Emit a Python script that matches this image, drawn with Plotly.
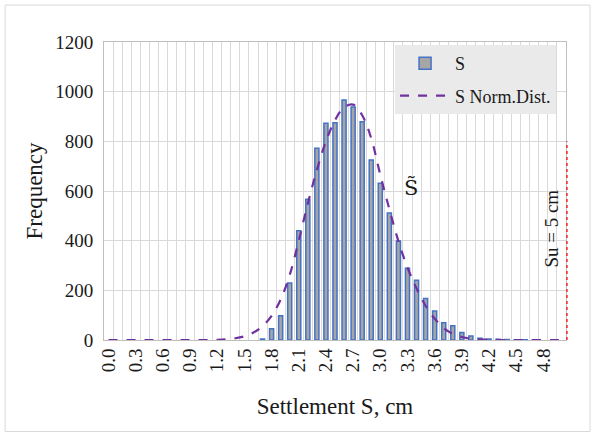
import plotly.graph_objects as go

# Bin centres of the settlement histogram (cm)
settlement = [0.0, 0.1, 0.2, 0.3, 0.4, 0.5, 0.6, 0.7, 0.8, 0.9,
              1.0, 1.1, 1.2, 1.3, 1.4, 1.5, 1.6, 1.7, 1.8, 1.9,
              2.0, 2.1, 2.2, 2.3, 2.4, 2.5, 2.6, 2.7, 2.8, 2.9,
              3.0, 3.1, 3.2, 3.3, 3.4, 3.5, 3.6, 3.7, 3.8, 3.9,
              4.0, 4.1, 4.2, 4.3, 4.4, 4.5, 4.6, 4.7, 4.8, 4.9, 5.0]

# Simulated frequencies per bin
frequency = [0, 0, 0, 0, 0, 0, 0, 0, 0, 0,
             0, 0, 0, 0, 0, 0, 0, 4, 45, 98,
             230, 440, 567, 772, 873, 875, 966, 938, 879, 725,
             631, 511, 399, 289, 241, 167, 117, 69, 57, 30,
             16, 7, 4, 3, 2, 1, 1, 1, 0, 0, 0]

# Fitted normal distribution, expected count per bin
norm_fit = [0, 0, 0, 0, 0, 0, 0, 0, 0, 0,
            0, 0, 1, 3, 7, 15, 30, 56, 97, 163,
            262, 400, 550, 685, 800, 885, 937, 948, 905, 812,
            665, 527, 398, 292, 208, 138, 86, 48, 25, 12,
            5, 2, 1, 0, 0, 0, 0, 0, 0, 0, 0]

# Allowable settlement limit
su_limit_height = 800

serif = "Liberation Serif, Times New Roman, serif"
text_col = "#1a1a1a"
grid_col = "#d9d9d9"

# empty bins are left out so they draw no outline on the axis
bar_x = [s for s, f in zip(settlement, frequency) if f > 0]
bar_y = [f for f in frequency if f > 0]

fig = go.Figure()

fig.add_trace(go.Bar(
    x=bar_x, y=bar_y, name="S",
    marker=dict(color="#a6a6a6", line=dict(color="#4472c4", width=1.5)),
    width=0.045,
    legendgroup="a",
))

fig.add_trace(go.Scatter(
    x=settlement, y=norm_fit, name="S Norm.Dist.",
    mode="lines", line=dict(color="#7030a0", width=2.2, dash="dash", shape="spline"),
    legendgroup="b",
))

# Su limit marker at the right edge of the plot
fig.add_shape(type="line", xref="x domain", yref="y",
              x0=1.002, x1=1.002, y0=0, y1=su_limit_height,
              line=dict(color="#ff2020", width=1.5, dash="dot"))

# Outer chart frame
fig.add_shape(type="rect", xref="paper", yref="paper",
              x0=-0.214, x1=1.052, y0=-0.307, y1=1.124,
              line=dict(color="#d9d9d9", width=1), layer="below")

# S with a tilde (median settlement) label
fig.add_annotation(x=3.34, y=612, xref="x", yref="y", text="S\u0303",
                   showarrow=False,
                   font=dict(family="DejaVu Serif, serif", size=21, color=text_col))
fig.add_annotation(x=4.88, y=447, xref="x", yref="y", text="Su = 5 cm",
                   textangle=-90, showarrow=False,
                   font=dict(family=serif, size=19, color=text_col))

fig.update_layout(
    width=593, height=437,
    margin=dict(l=104, r=27, t=42, b=97),
    paper_bgcolor="white", plot_bgcolor="white",
    font=dict(family=serif, color=text_col),
    bargap=0.5,
    legend=dict(
        x=0.63, y=0.99, xanchor="left", yanchor="top",
        bgcolor="#eaeaea", font=dict(family=serif, size=18, color=text_col),
        tracegroupgap=6, itemwidth=50,
    ),
    showlegend=True,
)

fig.update_xaxes(
    range=[-0.05, 5.05],
    tickmode="linear", tick0=0, dtick=0.3, tickformat=".1f",
    tickangle=-90, tickfont=dict(family=serif, size=19, color=text_col),
    showgrid=False, zeroline=False,
    showline=True, linecolor="#bfbfbf", linewidth=1, mirror=True,
    ticks="",
    minor=dict(tick0=0.05, dtick=0.1, showgrid=True, gridcolor=grid_col, gridwidth=1.2),
    title=dict(text="Settlement S, cm", font=dict(family=serif, size=23, color=text_col),
               standoff=26),
)

fig.update_yaxes(
    range=[0, 1200], dtick=200,
    tickfont=dict(family=serif, size=19, color=text_col),
    showgrid=True, gridcolor=grid_col, gridwidth=1.2, zeroline=False,
    showline=True, linecolor="#bfbfbf", linewidth=1, mirror=True,
    ticks="", ticklabelstandoff=6,
    title=dict(text="Frequency", font=dict(family=serif, size=23, color=text_col),
               standoff=6),
)

fig.write_html("out.html")
